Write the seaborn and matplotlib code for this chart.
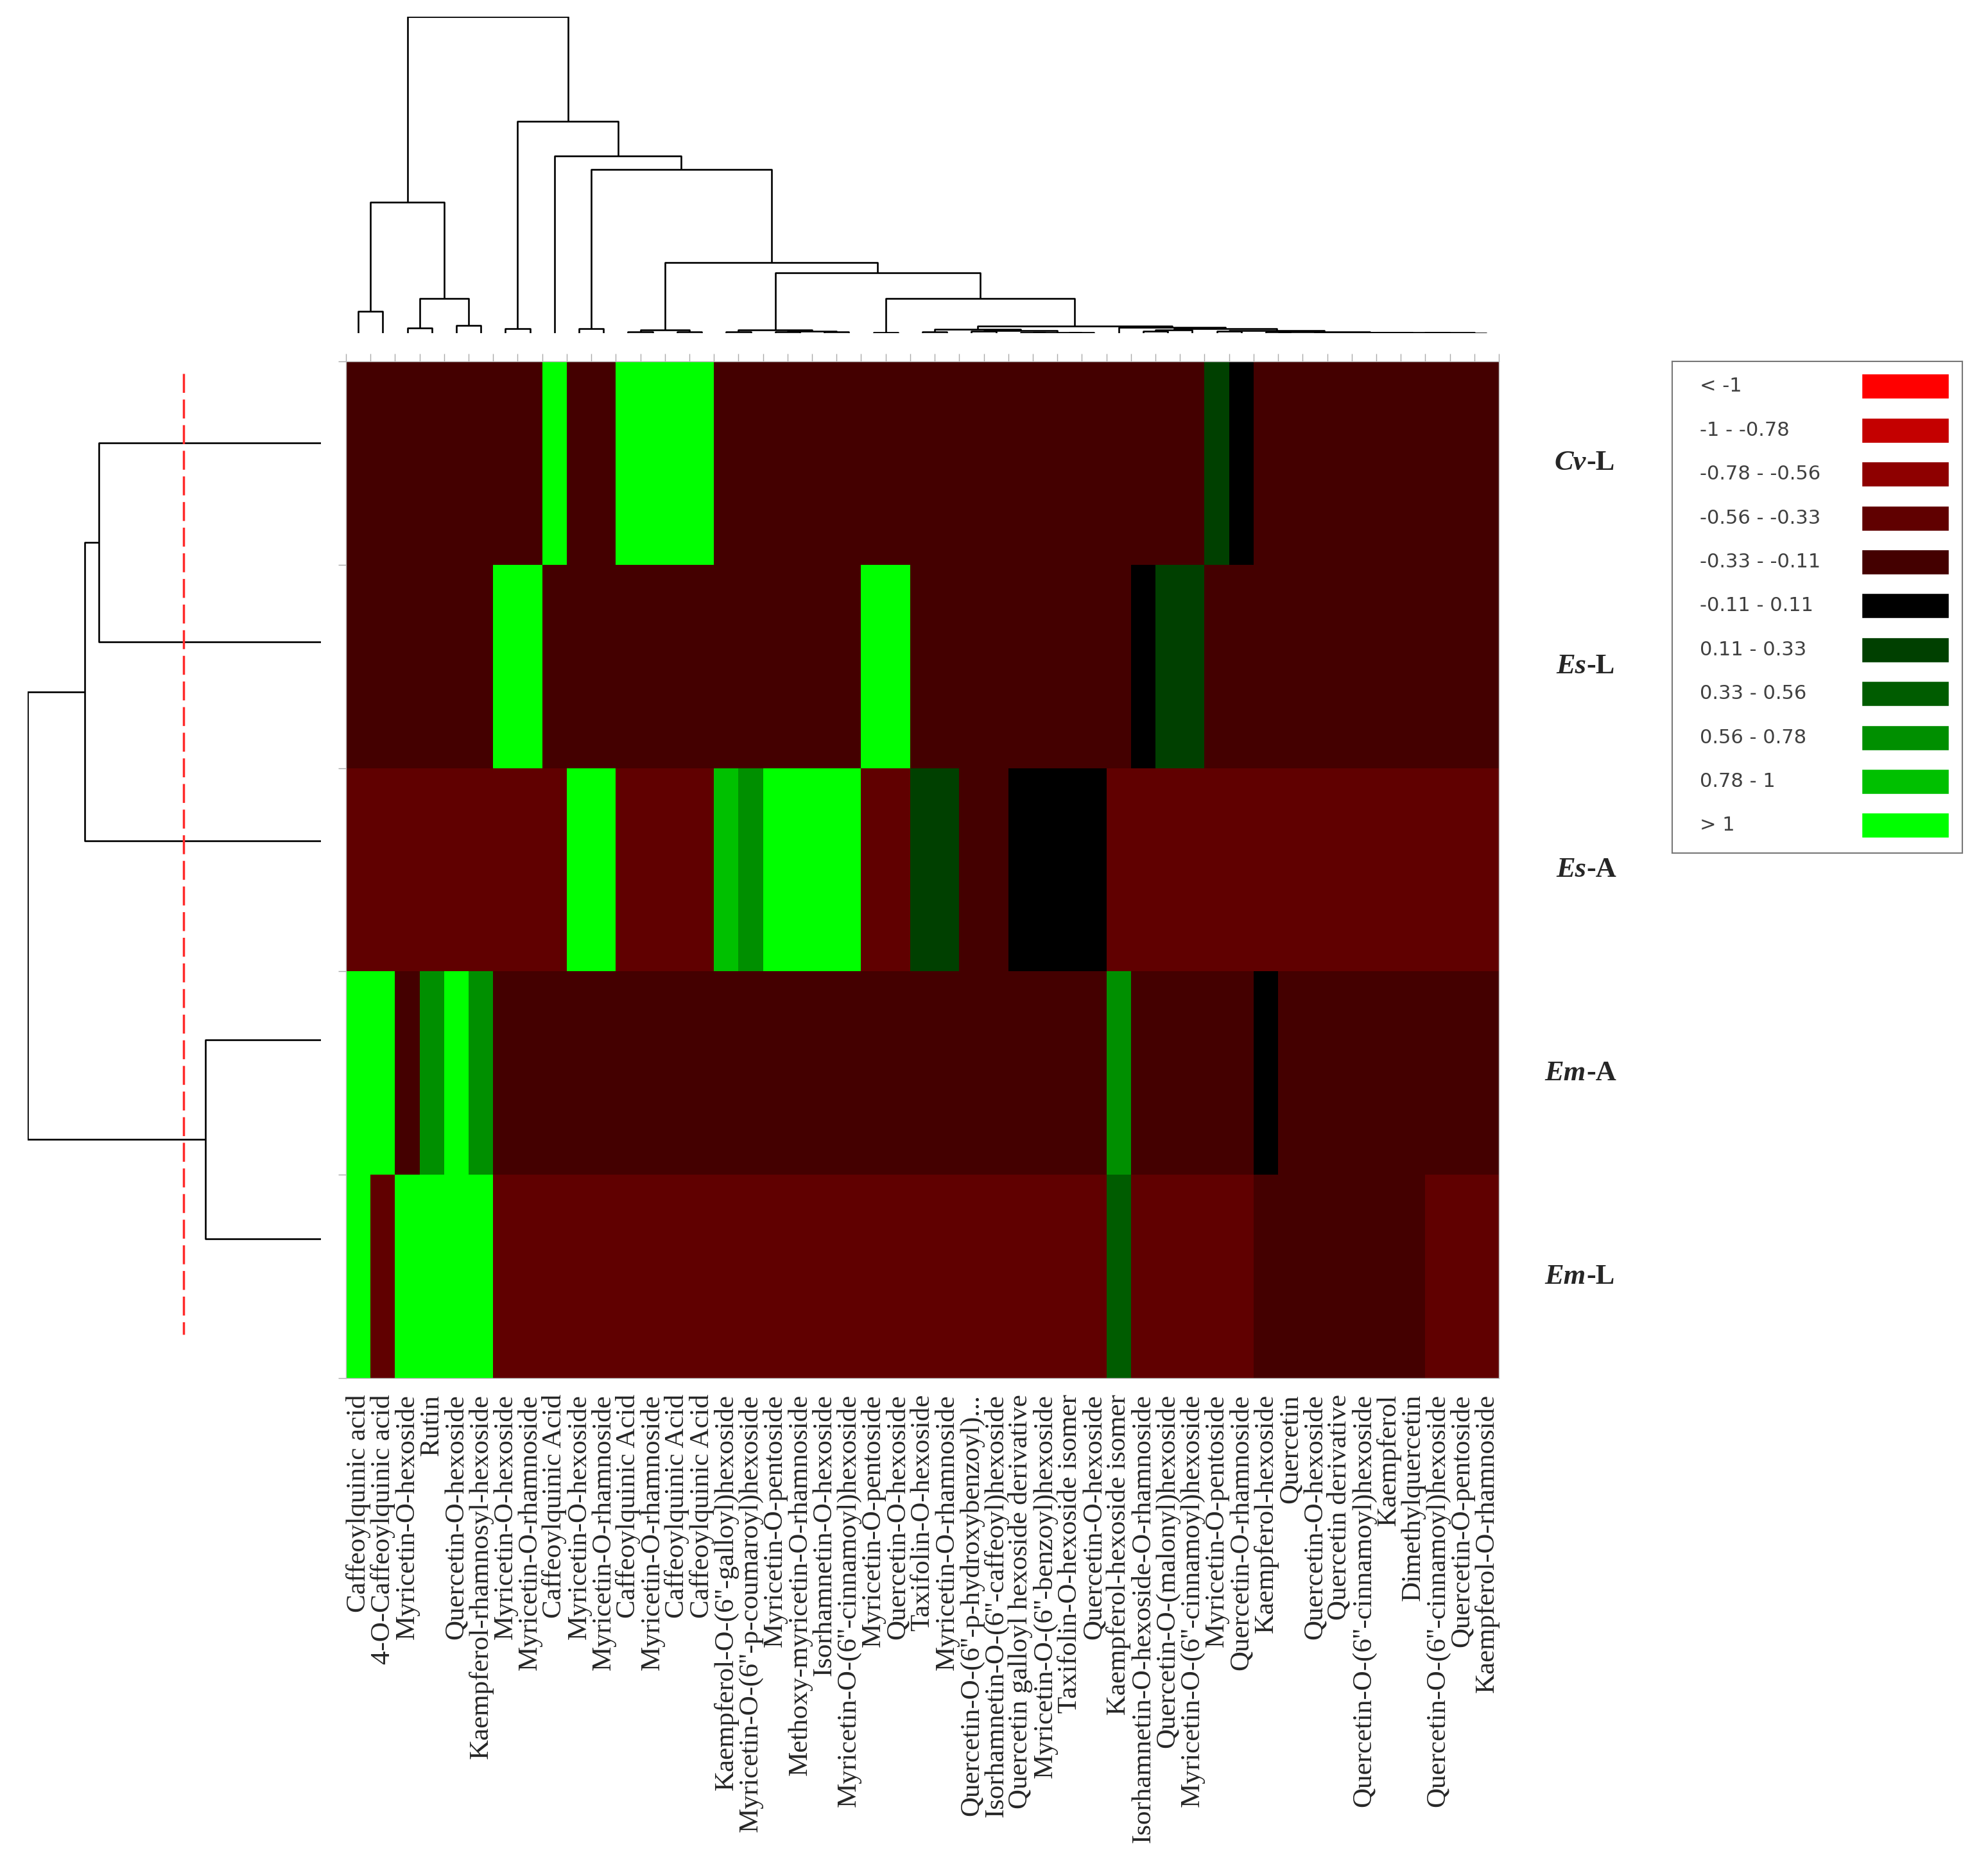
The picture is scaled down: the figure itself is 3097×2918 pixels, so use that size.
import numpy as np
import matplotlib
matplotlib.use("Agg")
import matplotlib.pyplot as plt
from matplotlib.colors import ListedColormap, BoundaryNorm
import seaborn as sns

# -----------------------------
# DATA
# -----------------------------
compounds = [
    "Caffeoylquinic acid", "4-O-Caffeoylquinic acid", "Myricetin-O-hexoside", "Rutin",
    "Quercetin-O-hexoside", "Kaempferol-rhamnosyl-hexoside", "Myricetin-O-hexoside",
    "Myricetin-O-rhamnoside", "Caffeoylquinic Acid", "Myricetin-O-hexoside",
    "Myricetin-O-rhamnoside", "Caffeoylquinic Acid", "Myricetin-O-rhamnoside",
    "Caffeoylquinic Acid", "Caffeoylquinic Acid", "Kaempferol-O-(6''-galloyl)hexoside",
    "Myricetin-O-(6''-p-coumaroyl)hexoside", "Myricetin-O-pentoside",
    "Methoxy-myricetin-O-rhamnoside", "Isorhamnetin-O-hexoside",
    "Myricetin-O-(6''-cinnamoyl)hexoside", "Myricetin-O-pentoside", "Quercetin-O-hexoside",
    "Taxifolin-O-hexoside", "Myricetin-O-rhamnoside", "Quercetin-O-(6''-p-hydroxybenzoyl)...",
    "Isorhamnetin-O-(6''-caffeoyl)hexoside", "Quercetin galloyl hexoside derivative",
    "Myricetin-O-(6''-benzoyl)hexoside", "Taxifolin-O-hexoside isomer", "Quercetin-O-hexoside",
    "Kaempferol-hexoside isomer", "Isorhamnetin-O-hexoside-O-rhamnoside",
    "Quercetin-O-(malonyl)hexoside", "Myricetin-O-(6''-cinnamoyl)hexoside",
    "Myricetin-O-pentoside", "Quercetin-O-rhamnoside", "Kaempferol-hexoside", "Quercetin",
    "Quercetin-O-hexoside", "Quercetin derivative", "Quercetin-O-(6''-cinnamoyl)hexoside",
    "Kaempferol", "Dimethylquercetin", "Quercetin-O-(6''-cinnamoyl)hexoside",
    "Quercetin-O-pentoside", "Kaempferol-O-rhamnoside",
]

samples = [("Cv", "-L"), ("Es", "-L"), ("Es", "-A"), ("Em", "-A"), ("Em", "-L")]

cv_l = [-0.22, -0.22, -0.22, -0.22, -0.22, -0.22, -0.22, -0.22, 1.5, -0.22,
        -0.22, 1.5, 1.5, 1.5, 1.5, -0.22, -0.22, -0.22, -0.22, -0.22,
        -0.22, -0.22, -0.22, -0.22, -0.22, -0.22, -0.22, -0.22, -0.22, -0.22,
        -0.22, -0.22, -0.22, -0.22, -0.22, 0.22, 0.0, -0.22, -0.22, -0.22,
        -0.22, -0.22, -0.22, -0.22, -0.22, -0.22, -0.22]
es_l = [-0.22, -0.22, -0.22, -0.22, -0.22, -0.22, 1.5, 1.5, -0.22, -0.22,
        -0.22, -0.22, -0.22, -0.22, -0.22, -0.22, -0.22, -0.22, -0.22, -0.22,
        -0.22, 1.5, 1.5, -0.22, -0.22, -0.22, -0.22, -0.22, -0.22, -0.22,
        -0.22, -0.22, 0.0, 0.22, 0.22, -0.22, -0.22, -0.22, -0.22, -0.22,
        -0.22, -0.22, -0.22, -0.22, -0.22, -0.22, -0.22]
es_a = [-0.45, -0.45, -0.45, -0.45, -0.45, -0.45, -0.45, -0.45, -0.45, 1.5,
        1.5, -0.45, -0.45, -0.45, -0.45, 0.9, 0.67, 1.5, 1.5, 1.5,
        1.5, -0.45, -0.45, 0.22, 0.22, -0.22, -0.22, 0.0, 0.0, 0.0,
        0.0, -0.45, -0.45, -0.45, -0.45, -0.45, -0.45, -0.45, -0.45, -0.45,
        -0.45, -0.45, -0.45, -0.45, -0.45, -0.45, -0.45]
em_a = [1.5, 1.5, -0.22, 0.67, 1.5, 0.67, -0.22, -0.22, -0.22, -0.22,
        -0.22, -0.22, -0.22, -0.22, -0.22, -0.22, -0.22, -0.22, -0.22, -0.22,
        -0.22, -0.22, -0.22, -0.22, -0.22, -0.22, -0.22, -0.22, -0.22, -0.22,
        -0.22, 0.67, -0.22, -0.22, -0.22, -0.22, -0.22, 0.0, -0.22, -0.22,
        -0.22, -0.22, -0.22, -0.22, -0.22, -0.22, -0.22]
em_l = [1.5, -0.45, 1.5, 1.5, 1.5, 1.5, -0.45, -0.45, -0.45, -0.45,
        -0.45, -0.45, -0.45, -0.45, -0.45, -0.45, -0.45, -0.45, -0.45, -0.45,
        -0.45, -0.45, -0.45, -0.45, -0.45, -0.45, -0.45, -0.45, -0.45, -0.45,
        -0.45, 0.45, -0.45, -0.45, -0.45, -0.45, -0.45, -0.22, -0.22, -0.22,
        -0.22, -0.22, -0.22, -0.22, -0.45, -0.45, -0.45]

legend_labels = ["< -1", "-1 - -0.78", "-0.78 - -0.56", "-0.56 - -0.33", "-0.33 - -0.11",
                 "-0.11 - 0.11", "0.11 - 0.33", "0.33 - 0.56", "0.56 - 0.78", "0.78 - 1", "> 1"]
bounds = [-3, -1, -0.78, -0.56, -0.33, -0.11, 0.11, 0.33, 0.56, 0.78, 1, 3]
colors = ["#ff0000", "#c40000", "#8e0000", "#600000", "#440000", "#000000",
          "#004000", "#005c00", "#008f00", "#00c000", "#00ff00"]

# dendrograms: (height, left, right); leaves are column / row indices
tail = (1.2, (1, 41, 42), (0.8, (0.5, 43, 44), (0.5, 45, 46)))
r6 = (1.5, (1, 39, 40), tail)
r5 = (2.5, (2, 37, 38), r6)
r4 = (4, (3, 35, 36), r5)
r2 = (7, (5, (3, 32, 33), 34), r4)
g_r = (9, 31, r2)
g_l = (6, (2, 23, 24), (4, (3, 25, 26), (1.5, (1, 27, 28), (1, 29, 30))))
node_g = (11, g_l, g_r)
node_f = (54, (1.5, 21, 22), node_g)
node_e = (95, (5, (2, 15, 16), (3, (2.5, 17, 18), (2, 19, 20))), node_f)
node_d = (111, (5, (2.5, 11, 12), (2, 13, 14)), node_e)
node_c = (257, (7, 9, 10), node_d)
node_b = (278, 8, node_c)
node_a = (333, (7, 6, 7), node_b)
first6 = (206, (34, 0, 1), (54, (8, 2, 3), (12.5, 4, 5)))
col_tree = (497, first6, node_a)

row_tree = (231, (186, (175, 0, 1), 2), (91, 3, 4))
cut_height = 108

# -----------------------------
# FIGURE
# -----------------------------
sns.set_style("white")
W, H = 3097, 2918
fig = plt.figure(figsize=(W / 100, H / 100), dpi=100)


def box(x0, y0, x1, y1):
    return [x0 / W, 1 - y1 / H, (x1 - x0) / W, (y1 - y0) / H]


def draw_tree(ax, node, orient):
    if isinstance(node, int):
        return node + 0.5, 0.0
    h, left, right = node
    x1, h1 = draw_tree(ax, left, orient)
    x2, h2 = draw_tree(ax, right, orient)
    xs, ys = [x1, x1, x2, x2], [h1, h, h, h2]
    if orient == "top":
        ax.plot(xs, ys, color="black", lw=1.9, solid_capstyle="butt")
    else:
        ax.plot(ys, xs, color="black", lw=1.9, solid_capstyle="butt")
    return (x1 + x2) / 2, h


# heatmap
ax = fig.add_axes(box(539, 563, 2335, 2147))
data = np.array([cv_l, es_l, es_a, em_a, em_l])
sns.heatmap(data, ax=ax, cmap=ListedColormap(colors), norm=BoundaryNorm(bounds, len(colors)),
            cbar=False, xticklabels=compounds, yticklabels=False)
ax.set_xticklabels(compounds, rotation=90, fontsize=31, family="Liberation Serif")
ax.tick_params(axis="x", which="major", length=0, pad=18)
ax.set_xticks(np.arange(len(compounds) + 1), minor=True)
ax.set_yticks(np.arange(len(samples) + 1), minor=True)
ax.tick_params(axis="x", which="minor", top=True, bottom=False, length=9, width=1, color="#aaaaaa")
ax.tick_params(axis="y", which="minor", left=True, length=9, width=1, color="#aaaaaa")
for s in ax.spines.values():
    s.set_visible(True)
    s.set_color("#bbbbbb")
    s.set_linewidth(1)

# row labels
for i, (sp, part) in enumerate(samples):
    yc = 563 + (2147 - 563) * (i + 0.5) / len(samples)
    fig.text(2471 / W, 1 - yc / H, sp, ha="right", va="center", fontsize=32,
             family="Liberation Serif", style="italic", weight="bold")
    fig.text(2471 / W, 1 - yc / H, part, ha="left", va="center", fontsize=32,
             family="Liberation Serif", weight="bold")

# top dendrogram
axt = fig.add_axes(box(539, 26, 2335, 519))
draw_tree(axt, col_tree, "top")
axt.set_xlim(0, len(compounds))
axt.set_ylim(0, 497)
axt.axis("off")

# left dendrogram
axl = fig.add_axes(box(43, 535, 500, 2085))
draw_tree(axl, row_tree, "left")
axl.vlines(cut_height, 0.15, 4.98, colors="#ff2a2a", lw=2.5, linestyles=[(0, (8.5, 3))])
axl.set_xlim(231, 0)
axl.set_ylim(len(samples), 0)
axl.axis("off")

# legend
axg = fig.add_axes(box(2605, 563, 3057, 1329))
pos = np.arange(len(legend_labels))
axg.barh(pos, 0.3, left=0.653, height=0.57, color=colors)
for p, lab in zip(pos, legend_labels):
    axg.text(0.095, p, lab, ha="left", va="center", fontsize=22, color="#404040",
             family="DejaVu Sans")
axg.set_xlim(0, 1)
axg.set_ylim(10.63, -0.57)
axg.set_xticks([])
axg.set_yticks([])
for s in axg.spines.values():
    s.set_visible(True)
    s.set_color("#777777")
    s.set_linewidth(1.5)

fig.savefig("out.png", dpi=100)
